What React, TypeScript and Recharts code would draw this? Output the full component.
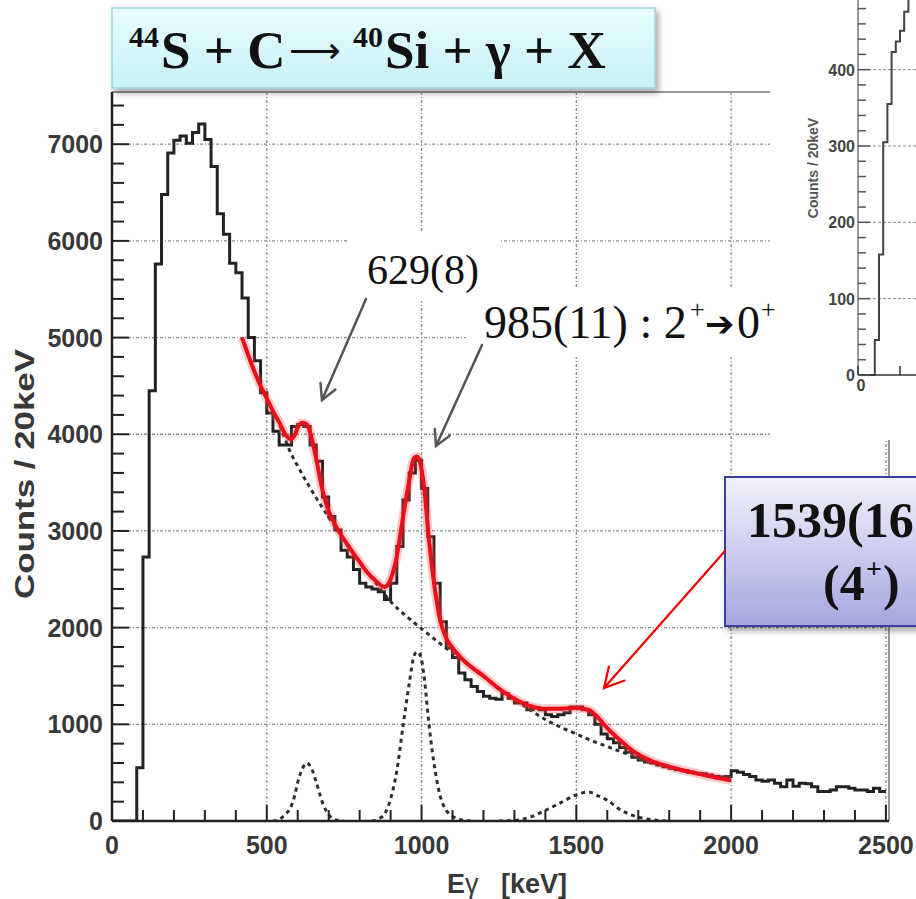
import React from 'react';
import { ComposedChart, Line, XAxis, YAxis, CartesianGrid, ReferenceLine } from 'recharts';

// ---- main spectrum: counts per 20 keV bin, starting at 0 keV ----
const BIN = 20;
const counts = [
  0, 0, 0, 0, 550, 2730, 4450, 5760, 6480, 6910, // 0-180
  7040, 7085, 7010, 7120, 7210, 7050, 6770, 6280, 6070, 5770, // 200-380
  5670, 5410, 5000, 4760, 4430, 4220, 4030, 3890, 3890, 4080, // 400-580
  4100, 4080, 3890, 3720, 3350, 3150, 3010, 2800, 2730, 2600, // 600-780
  2460, 2420, 2400, 2370, 2290, 2460, 2840, 3320, 3600, 3730, // 800-980
  3440, 2940, 2460, 2060, 1790, 1690, 1530, 1460, 1390, 1340, // 1000-1180
  1290, 1270, 1260, 1320, 1270, 1220, 1220, 1150, 1170, 1150, // 1200-1380
  1100, 1080, 1100, 1120, 1180, 1180, 1150, 1100, 1000, 900, // 1400-1580
  850, 810, 760, 710, 660, 630, 610, 600, 580, 560, // 1600-1780
  545, 530, 520, 505, 495, 490, 475, 460, 455, 460, // 1800-1980
  520, 505, 480, 460, 425, 410, 425, 390, 355, 425, // 2000-2180
  360, 390, 385, 355, 305, 305, 320, 355, 355, 340, // 2200-2380
  320, 320, 305, 340, 305, // 2400-2480
];

// total fit (red)
const fitE = [420, 440, 460, 480, 500, 520, 540, 560, 577, 590, 600, 615, 630, 645, 660, 680, 700, 725, 750, 775, 800, 825, 850, 880, 900, 920, 940, 960, 975, 985, 995, 1010, 1020, 1040, 1060, 1080, 1100, 1130, 1150, 1200, 1250, 1300, 1350, 1400, 1450, 1500, 1540, 1570, 1600, 1640, 1680, 1740, 1800, 1850, 1900, 1950, 2000];
const fitC = [5000, 4820, 4650, 4500, 4370, 4240, 4125, 4000, 3950, 3990, 4070, 4120, 4100, 3960, 3740, 3420, 3205, 3040, 2910, 2790, 2680, 2570, 2490, 2420, 2500, 2740, 3140, 3520, 3750, 3770, 3710, 3400, 3040, 2470, 2080, 1890, 1790, 1680, 1620, 1500, 1370, 1265, 1190, 1160, 1160, 1170, 1150, 1070, 960, 840, 730, 625, 562, 520, 485, 450, 420];

// background component (dashed)
const bgE = [420, 460, 500, 540, 577, 600, 630, 660, 700, 750, 800, 850, 900, 950, 1000, 1050, 1100, 1150, 1200, 1250, 1300, 1350, 1400, 1450, 1500, 1550, 1600, 1650, 1700, 1750, 1800, 1850, 1900, 1950, 2000];
const bgC = [5000, 4650, 4370, 4110, 3810, 3670, 3500, 3340, 3140, 2910, 2680, 2470, 2270, 2120, 1990, 1860, 1740, 1620, 1500, 1370, 1260, 1150, 1050, 970, 900, 830, 770, 710, 650, 600, 560, 520, 485, 450, 420];

// peak components (dashed)
const p629E = [520, 540, 560, 577, 590, 600, 615, 630, 645, 660, 680, 700, 725, 750];
const p629C = [0, 15, 70, 140, 260, 400, 540, 600, 540, 400, 190, 65, 10, 0];
const p985E = [840, 860, 880, 900, 920, 940, 960, 975, 985, 995, 1010, 1020, 1040, 1060, 1080, 1100, 1130, 1160];
const p985C = [0, 20, 70, 230, 520, 980, 1420, 1700, 1750, 1720, 1450, 1120, 600, 260, 110, 50, 10, 0];
const p1539E = [1250, 1300, 1350, 1400, 1450, 1500, 1540, 1570, 1600, 1640, 1680, 1740, 1800];
const p1539C = [0, 5, 40, 110, 190, 270, 300, 260, 215, 120, 60, 15, 0];

const xLabels = [0, 500, 1000, 1500, 2000, 2500];
const yLabels = [0, 1000, 2000, 3000, 4000, 5000, 6000, 7000];

// ---- inset (partly visible, top right): counts per 10 bin ----
const INSET_BIN = 10;
const insetCounts = [0, 0, 0, 0, 46, 158, 305, 355, 423, 437, 451, 476, 520, 560];
const insetLabels = [0, 100, 200, 300, 400];

const X_MAX = 2510;
const Y_MAX = 7540;

const pairs = (e: number[], c: number[]) => e.map((v, i) => ({ e: v, c: c[i] }));
const histData = counts.map((c, i) => ({ e: i * BIN, c })).concat([{ e: counts.length * BIN, c: counts[counts.length - 1] }]);
const insetData = insetCounts.map((c, i) => ({ e: i * INSET_BIN, c }));

const range = (a: number, b: number, s: number) => {
  const out: number[] = [];
  for (let v = a; v <= b; v += s) out.push(v);
  return out;
};

const TICK_FONT = '"Liberation Sans", Arial, sans-serif';
const SERIF = '"Liberation Serif", "Times New Roman", serif';
const SYM = '"DejaVu Sans", sans-serif';

const XTick = (props: any) => {
  const { x, y, payload } = props;
  const v = payload.value;
  const major = xLabels.includes(v);
  return (
    <g>
      <line x1={x} x2={x} y1={y} y2={y - (major ? 16 : 11)} stroke="#222" strokeWidth={2} />
      {major && (
        <text x={x} y={y + 33} textAnchor="middle" fontFamily={TICK_FONT} fontWeight="bold" fontSize={25} fill="#383838">
          {v}
        </text>
      )}
    </g>
  );
};

const YTick = (props: any) => {
  const { x, y, payload } = props;
  const v = payload.value;
  const major = yLabels.includes(v);
  return (
    <g>
      <line x1={x} x2={x + (major ? 17 : 12)} y1={y} y2={y} stroke="#222" strokeWidth={2} />
      {major && (
        <text x={x - 9} y={y + 9} textAnchor="end" fontFamily={TICK_FONT} fontWeight="bold" fontSize={25} fill="#383838">
          {v}
        </text>
      )}
    </g>
  );
};

const InsetXTick = (props: any) => {
  const { x, y, payload } = props;
  return (
    <g>
      <line x1={x} x2={x} y1={y} y2={y - 9} stroke="#333" strokeWidth={1.5} />
      {payload.value === 0 && (
        <text x={x + 3} y={y + 16} textAnchor="middle" fontFamily={TICK_FONT} fontWeight="bold" fontSize={16} fill="#444">0</text>
      )}
    </g>
  );
};

const InsetYTick = (props: any) => {
  const { x, y, payload } = props;
  const v = payload.value;
  const major = insetLabels.includes(v);
  return (
    <g>
      <line x1={x} x2={x + (major ? 12 : 8)} y1={y} y2={y} stroke="#555" strokeWidth={1.5} />
      {major && (
        <text x={x - 3} y={y + 6} textAnchor="end" fontFamily={TICK_FONT} fontWeight="bold" fontSize={16} fill="#444">
          {v}
        </text>
      )}
    </g>
  );
};

const head = (x1: number, y1: number, x2: number, y2: number, len: number) => {
  const a = Math.atan2(y2 - y1, x2 - x1);
  const s = 0.5;
  const p = (t: number) => `${x2 - len * Math.cos(a + t)},${y2 - len * Math.sin(a + t)}`;
  return `${p(-s)} ${x2},${y2} ${p(s)}`;
};

const Arrow = ({ x1, y1, x2, y2, color, w, len }: any) => (
  <g stroke={color} strokeWidth={w} fill="none" strokeLinecap="round">
    <line x1={x1} y1={y1} x2={x2} y2={y2} />
    <polyline points={head(x1, y1, x2, y2, len)} strokeLinejoin="miter" />
  </g>
);

const dashed = { stroke: '#2e2e2e', strokeWidth: 3, strokeDasharray: '4 4', dot: false, isAnimationActive: false, type: 'monotone' as const };

export default function App() {
  return (
    <div style={{ position: 'fixed', left: 0, top: 0, width: 916, height: 899, overflow: 'hidden', background: '#fff' }}>
      <ComposedChart width={916} height={899} margin={{ top: 92, right: 27, bottom: 28, left: 12 }}>
        <CartesianGrid
          horizontalValues={yLabels.slice(1)}
          verticalValues={[500, 1000, 1500, 2000, 2500]}
          stroke="#8a8a8a"
          strokeWidth={1.3}
          strokeDasharray="3 2 1 2"
        />
        <XAxis
          type="number"
          dataKey="e"
          domain={[0, X_MAX]}
          allowDataOverflow
          ticks={range(0, 2500, 100)}
          interval={0}
          tickSize={0}
          tickMargin={0}
          tickLine={false}
          tick={<XTick />}
          height={50}
          axisLine={{ stroke: '#222', strokeWidth: 2.5 }}
        />
        <YAxis
          type="number"
          dataKey="c"
          domain={[0, Y_MAX]}
          allowDataOverflow
          ticks={range(0, 7400, 200)}
          interval={0}
          tickSize={0}
          tickMargin={0}
          tickLine={false}
          tick={<YTick />}
          width={100}
          axisLine={{ stroke: '#222', strokeWidth: 2.5 }}
        />
        <ReferenceLine y={Y_MAX} stroke="#999" strokeWidth={2} />
        <ReferenceLine x={X_MAX} stroke="#999" strokeWidth={2} />
        <Line data={histData} dataKey="c" type="stepAfter" stroke="#222" strokeWidth={3} dot={false} isAnimationActive={false} />
        <Line data={pairs(bgE, bgC)} dataKey="c" {...dashed} />
        <Line data={pairs(p629E, p629C)} dataKey="c" {...dashed} />
        <Line data={pairs(p985E, p985C)} dataKey="c" {...dashed} />
        <Line data={pairs(p1539E, p1539C)} dataKey="c" {...dashed} />
        <Line data={pairs(fitE, fitC)} dataKey="c" type="monotone" stroke="#ff5050" strokeOpacity={0.3} strokeWidth={9} dot={false} isAnimationActive={false} />
        <Line data={pairs(fitE, fitC)} dataKey="c" type="monotone" stroke="#e8101a" strokeWidth={4} dot={false} isAnimationActive={false} />
      </ComposedChart>

      {/* inset panel, cut by the right edge */}
      <div style={{ position: 'absolute', left: 770, top: 0, width: 160, height: 440, background: '#fff', overflow: 'hidden' }}>
        <div style={{ position: 'absolute', left: 0, top: -100 }}>
          <ComposedChart width={520} height={520} margin={{ top: 17, right: 12, bottom: 15, left: 8 }}>
            <CartesianGrid horizontalValues={insetLabels.slice(1)} vertical={false} stroke="#888" strokeDasharray="3 2" />
            <XAxis
              type="number"
              dataKey="e"
              domain={[0, 1000]}
              ticks={range(0, 1000, 100)}
              interval={0}
              tickSize={0}
              tickMargin={0}
              tickLine={false}
              tick={<InsetXTick />}
              height={30}
              axisLine={{ stroke: '#333', strokeWidth: 1.5 }}
            />
            <YAxis
              type="number"
              dataKey="c"
              domain={[0, 600]}
              ticks={range(0, 580, 20)}
              interval={0}
              tickSize={0}
              tickMargin={0}
              tickLine={false}
              tick={<InsetYTick />}
              width={80}
              axisLine={{ stroke: '#777', strokeWidth: 1.5 }}
            />
            <Line data={insetData} dataKey="c" type="stepAfter" stroke="#444" strokeWidth={2} dot={false} isAnimationActive={false} />
          </ComposedChart>
        </div>
      </div>

      <svg width={916} height={899} style={{ position: 'absolute', left: 0, top: 0, pointerEvents: 'none' }}>
        <defs>
          <linearGradient id="cyan" x1="0" y1="0" x2="0" y2="1">
            <stop offset="0" stopColor="#e9fdff" />
            <stop offset="1" stopColor="#c6f2f7" />
          </linearGradient>
          <linearGradient id="lav" x1="0" y1="0" x2="0" y2="1">
            <stop offset="0" stopColor="#f2f2fc" />
            <stop offset="1" stopColor="#a6a6e0" />
          </linearGradient>
          <filter id="sh" x="-10%" y="-10%" width="130%" height="140%">
            <feDropShadow dx="3" dy="4" stdDeviation="3" floodColor="#000" floodOpacity="0.35" />
          </filter>
        </defs>

        {/* axis titles */}
        <text transform="translate(34,474) rotate(-90)" textAnchor="middle" fontFamily={TICK_FONT} fontWeight="bold" fontSize={27} fill="#383838" textLength={250} lengthAdjust="spacingAndGlyphs">
          Counts / 20keV
        </text>
        <text x={447} y={893} fontFamily={TICK_FONT} fontWeight="bold" fontSize={27} fill="#383838" style={{ whiteSpace: 'pre' }}>
          E<tspan fontWeight="normal">γ</tspan>{'   [keV]'}
        </text>
        <text transform="translate(818,168) rotate(-90)" textAnchor="middle" fontFamily={TICK_FONT} fontWeight="bold" fontSize={14} fill="#555">
          Counts / 20keV
        </text>

        {/* title */}
        <rect x={112} y={8} width={543} height={80} fill="url(#cyan)" stroke="#9fd3da" strokeWidth={1.5} filter="url(#sh)" />
        <g fontFamily={SERIF} fontWeight="bold" fill="#111">
          <text x={129} y={47} fontSize={30}>44</text>
          <text x={161} y={68} fontSize={53}>S + C</text>
          <text x={289} y={63} fontFamily={SYM} fontWeight="normal" fontSize={36}>⟶</text>
          <text x={353} y={47} fontSize={30}>40</text>
          <text x={385} y={68} fontSize={53}>Si + γ + X</text>
        </g>

        {/* peak labels */}
        <rect x={466} y={287} width={304} height={70} fill="#fff" />
        <rect x={347} y={231} width={153} height={70} fill="#fff" />
        <text x={367} y={284} fontFamily={SERIF} fontSize={42} fill="#111">629(8)</text>
        <g fontFamily={SERIF} fill="#111">
          <text x={484} y={338} fontSize={46}>985(11) : 2</text>
          <text x={690} y={318} fontSize={26}>+</text>
          <text x={705} y={336} fontFamily={SYM} fontWeight="bold" fontSize={35}>➔</text>
          <text x={737} y={338} fontSize={46}>0</text>
          <text x={761} y={318} fontSize={26}>+</text>
        </g>
        <Arrow x1={366} y1={299} x2={322} y2={400} color="#555" w={2.5} len={17} />
        <Arrow x1={482} y1={345} x2={436} y2={446} color="#555" w={2.5} len={17} />

        <rect x={725} y={477} width={260} height={149} fill="url(#lav)" stroke="#3a3f9e" strokeWidth={2} filter="url(#sh)" />
        <g fontFamily={SERIF} fontWeight="bold" fill="#111">
          <text x={747} y={537} fontSize={50}>1539(16</text>
          <text x={823} y={600} fontSize={50}>(4</text>
          <text x={866} y={578} fontSize={28}>+</text>
          <text x={883} y={600} fontSize={50}>)</text>
        </g>
        <Arrow x1={725} y1={551} x2={604} y2={688} color="#f00000" w={2.2} len={22} />
      </svg>
    </div>
  );
}
